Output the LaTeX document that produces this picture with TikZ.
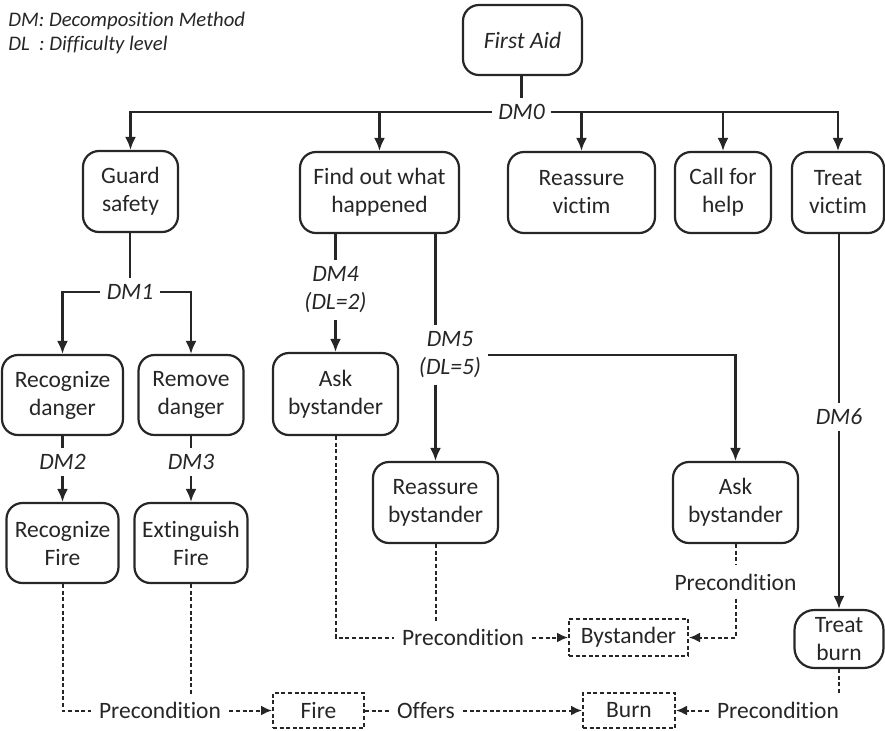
\documentclass[tikz,border=0pt]{standalone}
\usepackage{fontspec}
\setmainfont{Carlito}[Ligatures=NoCommon]
\usetikzlibrary{arrows.meta}
\definecolor{ink}{HTML}{262626}
\definecolor{txt}{HTML}{262626}
\begin{document}
\begin{tikzpicture}[x=0.5pt,y=-0.5pt,
  font=\fontsize{11.75}{14}\selectfont, text=txt,
  task/.style={draw=ink, line width=1.1pt, rounded corners=8pt, align=center, inner sep=0pt},
  entity/.style={draw=ink, line width=1pt, dash pattern=on 2pt off 1.3pt, align=center, inner sep=0pt},
  dmlabel/.style={font=\fontsize{11.75}{14}\selectfont\itshape, inner sep=3pt, align=center},
  relname/.style={inner sep=4pt},
  link/.style={draw=ink, line width=1.1pt},
  arrowlink/.style={link, -{Latex[length=6.5pt,width=5.5pt]}},
  dotlink/.style={draw=ink, line width=1pt, dash pattern=on 2pt off 1.3pt},
  dotarrow/.style={dotlink, -{Latex[length=5.5pt,width=5pt]}},
]
\useasboundingbox (0,0) rectangle (885,730);

% legend
\node[anchor=west, inner sep=0pt, font=\fontsize{10.35}{12}\selectfont\itshape] (legdm) at (8,21) {DM: Decomposition Method};
\node[anchor=west, inner sep=0pt, font=\fontsize{10.35}{12}\selectfont\itshape] (legdl) at (8,45) {DL\ \ : Difficulty level};

% goal and first-level tasks
\node[task, font=\fontsize{11.75}{14}\selectfont\itshape, minimum width=59.5pt, minimum height=35pt] (firstaid) at (522.5,40) {First Aid};
\node[task, minimum width=47.5pt, minimum height=40.5pt] (guard) at (130.5,191.5) {Guard\\safety};
\node[task, minimum width=79.5pt, minimum height=40.5pt] (findout) at (379.5,192.5) {Find out what\\happened};
\node[task, minimum width=73.5pt, minimum height=40.5pt] (reassurev) at (581.5,192.5) {Reassure\\victim};
\node[task, minimum width=48pt, minimum height=40.5pt] (callhelp) at (723,192.5) {Call for\\help};
\node[task, minimum width=46pt, minimum height=40.5pt] (treatv) at (838,192.5) {Treat\\victim};

% sub-tasks
\node[task, minimum width=60.5pt, minimum height=40pt] (recdanger) at (62.5,395) {Recognize\\danger};
\node[task, minimum width=52.5pt, minimum height=40pt] (remdanger) at (191,395) {Remove\\danger};
\node[task, minimum width=56pt, minimum height=40pt] (recfire) at (62.5,543) {Recognize\\Fire};
\node[task, minimum width=56.5pt, minimum height=40pt] (extfire) at (191,543) {Extinguish\\Fire};
\node[task, minimum width=62.5pt, minimum height=41pt] (askby1) at (335.5,394) {Ask\\bystander};
\node[task, minimum width=62.5pt, minimum height=40.5pt] (reassureby) at (435.5,502.5) {Reassure\\bystander};
\node[task, minimum width=62.5pt, minimum height=40.5pt] (askby2) at (735.5,502.5) {Ask\\bystander};
\node[task, rounded corners=10pt, minimum width=44.5pt, minimum height=29pt] (treatburn) at (839,639) {Treat\\burn};

% entities
\node[entity, minimum width=59.5pt, minimum height=18.5pt] (bystander) at (628.5,637.5) {Bystander};
\node[entity, minimum width=45.5pt, minimum height=17.5pt] (fire) at (318.5,710.5) {Fire};
\node[entity, minimum width=46pt, minimum height=17.5pt] (burn) at (629,710.5) {Burn};

% decomposition labels
\node[dmlabel] (dm0) at (521.5,112) {DM0};
\node[dmlabel] (dm1) at (130,292) {DM1};
\node[dmlabel] (dm2) at (62.5,462) {DM2};
\node[dmlabel] (dm3) at (191,462) {DM3};
\node[dmlabel] (dm4) at (335.5,290) {DM4\\(DL=2)};
\node[dmlabel] (dm5) at (450,355) {DM5\\(DL=5)};
\node[dmlabel] (dm6) at (839,417) {DM6};

% relation labels
\node[relname] (pre1) at (160,710.5) {Precondition};
\node[relname] (offers) at (426,710.5) {Offers};
\node[relname] (pre2) at (778,710.5) {Precondition};
\node[relname] (pre3) at (463,637.5) {Precondition};
\node[relname] (pre4) at (735.5,582) {Precondition};

% DM0
\draw[link] (dm0.north |- firstaid.south) -- (dm0.north);
\draw[arrowlink] (dm0.west) -| (guard.north);
\draw[arrowlink] (dm0.west -| findout.north) -- (findout.north);
\draw[arrowlink] (dm0.east) -| (treatv.north);
\draw[arrowlink] (dm0.east -| reassurev.north) -- (reassurev.north);
\draw[arrowlink] (dm0.east -| callhelp.north) -- (callhelp.north);

% DM1 - DM3
\draw[link] (dm1.north |- guard.south) -- (dm1.north);
\draw[arrowlink] (dm1.west) -| (recdanger.north);
\draw[arrowlink] (dm1.east) -| (remdanger.north);
\draw[link] (recdanger.south) -- (dm2.north);
\draw[arrowlink] (dm2.south) -- (recfire.north);
\draw[link] (remdanger.south) -- (dm3.north);
\draw[arrowlink] (dm3.south) -- (extfire.north);

% DM4, DM5
\draw[link] (findout.south -| dm4) -- (dm4.north);
\draw[arrowlink] (dm4.south) -- (askby1.north);
\draw[link] (findout.south -| reassureby) -- (dm5.north -| reassureby);
\draw[arrowlink] (dm5.south -| reassureby) -- (reassureby.north);
\draw[arrowlink] (dm5.east) -| (askby2.north);

% DM6
\draw[link] (treatv.south -| dm6) -- (dm6.north);
\draw[arrowlink] (dm6.south) -- (treatburn.north);

% preconditions and offers
\draw[dotlink] (recfire.south) |- (pre1.west);
\draw[dotlink] (extfire.south) -- (extfire.south |- pre1.north);
\draw[dotarrow] (pre1.east) -- (fire.west);
\draw[dotlink] (fire.east) -- (offers.west);
\draw[dotarrow] (offers.east) -- (burn.west);
\draw[dotarrow] (pre2.west) -- (burn.east);
\draw[dotlink] (treatburn.south) -- (treatburn.south |- pre2.north);
\draw[dotlink] (askby1.south) |- (pre3.west);
\draw[dotlink] (reassureby.south) -- (reassureby.south |- pre3.north);
\draw[dotarrow] (pre3.east) -- (bystander.west);
\draw[dotlink] (askby2.south) -- (pre4.north);
\draw[dotarrow] (pre4.south) |- (bystander.east);
\end{tikzpicture}
\end{document}
